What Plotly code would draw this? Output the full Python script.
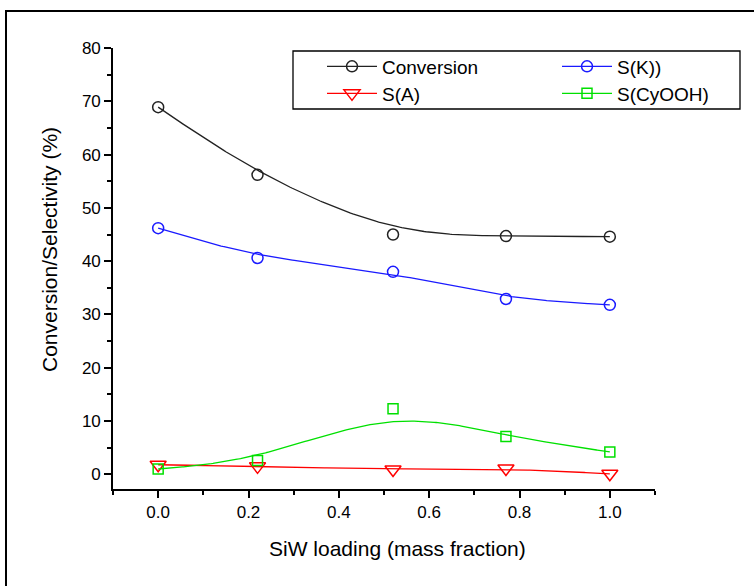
import numpy as np
import plotly.graph_objects as go

# ---- data ----
siw_loading = [0.0, 0.22, 0.52, 0.77, 1.0]
conversion = [68.9, 56.2, 45.0, 44.7, 44.6]
s_k = [46.2, 40.6, 38.0, 32.9, 31.8]
s_a = [1.8, 1.5, 0.9, 1.1, 0.1]
s_cyooh = [1.0, 2.6, 12.3, 7.1, 4.2]

series_names = ["Conversion", "S(K))", "S(A)", "S(CyOOH)"]
x_tick_vals = [0.0, 0.2, 0.4, 0.6, 0.8, 1.0]
x_tick_text = ["0.0", "0.2", "0.4", "0.6", "0.8", "1.0"]
y_tick_vals = [0, 10, 20, 30, 40, 50, 60, 70, 80]
x_title = "SiW loading (mass fraction)"
y_title = "Conversion/Selectivity (%)"


def bspline(xs, ys, per_seg=60):
    """Uniform cubic B-spline using the data points as control points,
    end points repeated so the curve starts/ends on the first/last point."""
    px = np.r_[[xs[0]] * 2, xs, [xs[-1]] * 2].astype(float)
    py = np.r_[[ys[0]] * 2, ys, [ys[-1]] * 2].astype(float)
    s = np.linspace(0, 1, per_seg)
    b0 = (1 - s) ** 3 / 6
    b1 = (3 * s ** 3 - 6 * s ** 2 + 4) / 6
    b2 = (-3 * s ** 3 + 3 * s ** 2 + 3 * s + 1) / 6
    b3 = s ** 3 / 6
    ox, oy = [], []
    for i in range(len(px) - 3):
        ox.append(b0 * px[i] + b1 * px[i + 1] + b2 * px[i + 2] + b3 * px[i + 3])
        oy.append(b0 * py[i] + b1 * py[i + 1] + b2 * py[i + 2] + b3 * py[i + 3])
    return np.concatenate(ox), np.concatenate(oy)


FONT = "Arial, 'Liberation Sans', sans-serif"

styles = [
    (conversion, "#222222", "circle-open", 11),
    (s_k, "#1a1aff", "circle-open", 11),
    (s_a, "#ff0000", "triangle-down-open", 14),
    (s_cyooh, "#00e000", "square-open", 10),
]

L, R, T, B = 113, 99, 48, 97
W, H = 754, 586
pw, ph = W - L - R, H - T - B


def px_to_paper_x(px):
    return (px - L) / pw


def px_to_paper_y(py):
    return (H - B - py) / ph


legend_ids = ["legend", "legend2", "legend3", "legend4"]
# legend slot placement (pixels): two columns, two rows
legend_pos = [(322, 47.5), (557, 47.5), (322, 74.5), (557, 74.5)]

fig = go.Figure()

for name, (vals, col, sym, sz), lid in zip(series_names, styles, legend_ids):
    cx, cy = bspline(siw_loading, vals)
    fig.add_trace(go.Scatter(x=cx, y=cy, mode="lines", line=dict(color=col, width=1.3),
                             showlegend=False, hoverinfo="skip"))
    fig.add_trace(go.Scatter(x=siw_loading, y=vals, mode="markers",
                             marker=dict(symbol=sym, size=sz, color=col, line=dict(width=1.5, color=col)),
                             showlegend=False, name=name))
    # legend entry (line with marker in the middle)
    fig.add_trace(go.Scatter(x=[None], y=[None], mode="lines+markers", name=name, legend=lid,
                             line=dict(color=col, width=1.3),
                             marker=dict(symbol=sym, size=sz, color=col, line=dict(width=1.5, color=col))))

legend_layouts = {}
for lid, (lx, ly) in zip(legend_ids, legend_pos):
    legend_layouts[lid] = dict(
        x=px_to_paper_x(lx), y=px_to_paper_y(ly),
        xanchor="left", yanchor="top",
        borderwidth=0, bgcolor="rgba(0,0,0,0)",
        font=dict(family=FONT, size=19, color="black"),
        itemwidth=50,
    )

fig.update_layout(
    width=W, height=H,
    margin=dict(l=L, r=R, t=T, b=B),
    paper_bgcolor="white", plot_bgcolor="white",
    font=dict(family=FONT, color="black", size=16),
    showlegend=True,
    xaxis=dict(
        range=[-0.1, 1.1],
        tickmode="array", tickvals=x_tick_vals, ticktext=x_tick_text,
        ticks="outside", ticklen=7, tickwidth=1.5, tickcolor="black",
        minor=dict(dtick=0.1, tick0=0, ticks="outside", ticklen=4, tickwidth=1.5, tickcolor="black"),
        showline=True, linecolor="black", linewidth=1.6,
        showgrid=False, zeroline=False,
        tickfont=dict(family=FONT, size=17),
    ),
    yaxis=dict(
        range=[-2.75, 80],
        tickmode="array", tickvals=y_tick_vals,
        ticks="outside", ticklen=7, tickwidth=1.5, tickcolor="black",
        minor=dict(dtick=5, tick0=0, ticks="outside", ticklen=4, tickwidth=1.5, tickcolor="black"),
        showline=True, linecolor="black", linewidth=1.6,
        showgrid=False, zeroline=False,
        tickfont=dict(family=FONT, size=17),
    ),
    annotations=[
        dict(text=x_title, xref="paper", yref="paper",
             x=px_to_paper_x(397), y=px_to_paper_y(548), xanchor="center", yanchor="middle",
             showarrow=False, font=dict(family=FONT, size=21)),
        dict(text=y_title, xref="paper", yref="paper", textangle=-90,
             x=px_to_paper_x(49), y=px_to_paper_y(250), xanchor="center", yanchor="middle",
             showarrow=False, font=dict(family=FONT, size=21)),
    ],
    shapes=[
        dict(type="rect", xref="paper", yref="paper",
             x0=px_to_paper_x(6), y0=px_to_paper_y(620), x1=px_to_paper_x(790), y1=px_to_paper_y(11),
             line=dict(color="black", width=2), fillcolor="rgba(0,0,0,0)", layer="below"),
        dict(type="rect", xref="paper", yref="paper",
             x0=px_to_paper_x(293), y0=px_to_paper_y(109), x1=px_to_paper_x(740), y1=px_to_paper_y(51),
             line=dict(color="black", width=1.3), fillcolor="rgba(0,0,0,0)", layer="above"),
    ],
    **legend_layouts,
)

fig.write_html("out.html",
               config={"displayModeBar": False},
               post_script="document.body.style.margin='0';document.body.style.overflow='hidden';")
